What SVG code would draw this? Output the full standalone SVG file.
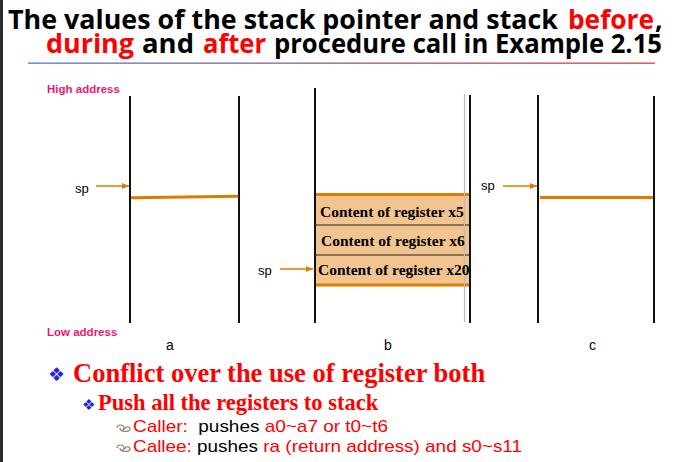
<svg xmlns="http://www.w3.org/2000/svg" width="685" height="462" viewBox="0 0 685 462">
<defs>
<linearGradient id="sepGrad" x1="0" y1="0" x2="1" y2="0">
<stop offset="0" stop-color="#4f7cc8"/>
<stop offset="1" stop-color="#d04040"/>
</linearGradient>
<marker id="arr" markerWidth="8" markerHeight="8" refX="7" refY="4" orient="auto" markerUnits="userSpaceOnUse">
<path d="M0,1 L7,4 L0,7 Z" fill="#e07b00"/>
</marker>
<style>
.title{font-family:"Open Sans","Liberation Sans",sans-serif;font-weight:bold;font-size:27px;fill:#000}
.red{fill:#ff0000}
.addr{font-family:"Liberation Sans",Arial,sans-serif;font-weight:bold;font-size:11.5px;fill:#ee1870}
.wall{stroke:#111;stroke-width:2;fill:none}
.wallg{stroke:#bbb;stroke-width:1.2;fill:none}
.ora{stroke:#e07b00;stroke-width:3;fill:none}
.arrow{stroke:#e07b00;stroke-width:1.5;fill:none;marker-end:url(#arr)}
.sp{font-family:"Liberation Sans",Arial,sans-serif;font-size:13px;fill:#000}
.lbl{font-family:"Liberation Sans",Arial,sans-serif;font-size:14px;fill:#000}
.reg{font-family:"Liberation Serif","Times New Roman",serif;font-weight:bold;font-size:15.5px;fill:#000}
.b1{font-family:"Liberation Serif","Times New Roman",serif;font-weight:bold;font-size:26.5px;fill:#ff0000}
.b2{font-family:"Liberation Serif","Times New Roman",serif;font-weight:bold;font-size:22.5px;fill:#ff0000}
.b3{font-family:"Liberation Sans",Arial,sans-serif;font-size:17px;fill:#ff0000}
.blk{fill:#000}
.dia{font-family:"DejaVu Sans",sans-serif;fill:#2222ee}
.loop{stroke:#9a7a6a;stroke-width:1.2;fill:none}
</style>
</defs>
<rect x="0" y="0" width="685" height="462" fill="#ffffff"/>
<rect x="0" y="0" width="3" height="462" fill="#2b2b2b"/>

<g id="title">
<text class="title" x="8" y="29" textLength="550" lengthAdjust="spacingAndGlyphs">The values of the stack pointer and stack</text>
<text class="title red" x="568" y="29" textLength="86" lengthAdjust="spacingAndGlyphs">before</text>
<text class="title" x="655" y="29">,</text>
<text class="title red" x="46" y="53" textLength="88" lengthAdjust="spacingAndGlyphs">during</text>
<text class="title" x="142" y="53" textLength="52" lengthAdjust="spacingAndGlyphs">and</text>
<text class="title red" x="203" y="53" textLength="63" lengthAdjust="spacingAndGlyphs">after</text>
<text class="title" x="274" y="53" textLength="388" lengthAdjust="spacingAndGlyphs">procedure call in Example 2.15</text>
<rect x="28" y="62.5" width="627" height="1.3" fill="url(#sepGrad)"/>
</g>

<g id="addresses">
<text class="addr" x="47" y="93">High address</text>
<text class="addr" x="47" y="336">Low address</text>
</g>

<g id="stack-a">
<line class="wall" x1="130" y1="96" x2="130" y2="323"/>
<line class="wall" x1="239" y1="96" x2="239" y2="323"/>
<line class="ora" x1="131" y1="197.7" x2="238" y2="196.3"/>
<text class="sp" x="75" y="193">sp</text>
<text class="lbl" x="166" y="350">a</text>
</g>

<g id="stack-b">
<rect x="315" y="194.5" width="155" height="90.5" fill="#f2c490"/>
<line x1="315" y1="225" x2="470" y2="225" stroke="#222" stroke-width="1"/>
<line x1="315" y1="255" x2="470" y2="255" stroke="#222" stroke-width="1"/>
<line class="ora" x1="315" y1="194.5" x2="470" y2="194.5"/>
<line class="ora" x1="315" y1="285" x2="470" y2="285"/>
<line class="wall" x1="315" y1="88" x2="315" y2="323"/>
<line class="wallg" x1="464.5" y1="94" x2="464.5" y2="322"/>
<line class="wall" x1="470" y1="95" x2="470" y2="323"/>
<text class="reg" x="320" y="217">Content of register x5</text>
<text class="reg" x="321" y="246">Content of register x6</text>
<text class="reg" x="318" y="275">Content of register x20</text>
<text class="sp" x="258" y="275">sp</text>
<text class="lbl" x="384" y="350">b</text>
</g>

<g id="stack-c">
<line class="wall" x1="538" y1="95" x2="538" y2="323"/>
<line class="wall" x1="654" y1="96" x2="654" y2="323"/>
<line class="ora" x1="540" y1="197.5" x2="653" y2="197.5"/>
<text class="sp" x="481" y="190">sp</text>
<text class="lbl" x="589" y="350">c</text>
</g>

<g id="connectors">
<line class="arrow" x1="96" y1="186" x2="129" y2="186"/>
<line class="arrow" x1="280" y1="269" x2="313" y2="269"/>
<line class="arrow" x1="503" y1="186" x2="537" y2="186"/>
</g>

<g id="notes">
<text class="dia" x="48" y="381" font-size="19">❖</text>
<text class="b1" x="73" y="382">Conflict over the use of register both</text>
<text class="dia" x="82" y="410" font-size="15">❖</text>
<text class="b2" x="98" y="410">Push all the registers to stack</text>
<path class="loop" d="M117,428 c0,-4 7,-4 7,0 c0,3 -4,3 -4,0 M121,430 c2,2 9,2 9,-1 c0,-3 -5,-3 -5,0"/>
<text class="b3" x="133" y="432" textLength="255" lengthAdjust="spacingAndGlyphs">Caller:&#160; <tspan class="blk">pushes </tspan>a0~a7 or t0~t6</text>
<path class="loop" d="M117,448 c0,-4 7,-4 7,0 c0,3 -4,3 -4,0 M121,450 c2,2 9,2 9,-1 c0,-3 -5,-3 -5,0"/>
<text class="b3" x="133" y="452" textLength="389" lengthAdjust="spacingAndGlyphs">Callee: <tspan class="blk">pushes </tspan>ra (return address) and s0~s11</text>
</g>
</svg>
